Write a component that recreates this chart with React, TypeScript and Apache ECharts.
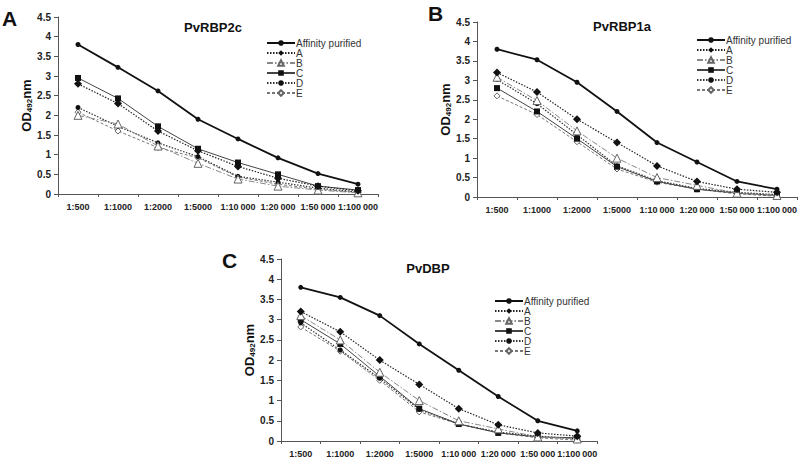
import React, { useEffect, useRef } from "react";
import * as echarts from "echarts";

const categories = ["1:500", "1:1000", "1:2000", "1:5000", "1:10\u2009000", "1:20\u2009000", "1:50\u2009000", "1:100\u2009000"];
const seriesNames = ["Affinity purified", "A", "B", "C", "D", "E"];

// Panel A: PvRBP2c
const rbp2cAffinity = [3.8, 3.22, 2.62, 1.9, 1.4, 0.92, 0.52, 0.25];
const rbp2cA = [2.8, 2.3, 1.6, 1.1, 0.7, 0.4, 0.2, 0.08];
const rbp2cB = [2.0, 1.78, 1.22, 0.78, 0.38, 0.2, 0.1, 0.03];
const rbp2cC = [2.95, 2.43, 1.72, 1.15, 0.8, 0.5, 0.2, 0.1];
const rbp2cD = [2.2, 1.72, 1.3, 0.95, 0.45, 0.3, 0.15, 0.05];
const rbp2cE = [2.08, 1.6, 1.18, 0.92, 0.43, 0.25, 0.12, 0.04];

// Panel B: PvRBP1a
const rbp1aAffinity = [3.8, 3.53, 2.95, 2.2, 1.4, 0.9, 0.4, 0.2];
const rbp1aA = [3.2, 2.7, 2.0, 1.4, 0.8, 0.4, 0.2, 0.12];
const rbp1aB = [3.08, 2.48, 1.7, 1.0, 0.5, 0.3, 0.1, 0.04];
const rbp1aC = [2.8, 2.2, 1.5, 0.78, 0.4, 0.2, 0.1, 0.04];
const rbp1aD = [3.02, 2.4, 1.6, 0.8, 0.42, 0.22, 0.12, 0.06];
const rbp1aE = [2.6, 2.12, 1.42, 0.72, 0.38, 0.2, 0.08, 0.02];

// Panel C: PvDBP
const dbpAffinity = [3.8, 3.55, 3.1, 2.4, 1.75, 1.1, 0.5, 0.25];
const dbpA = [3.2, 2.7, 2.0, 1.4, 0.8, 0.4, 0.2, 0.12];
const dbpB = [3.1, 2.5, 1.7, 1.0, 0.5, 0.3, 0.1, 0.05];
const dbpC = [3.0, 2.4, 1.6, 0.8, 0.42, 0.2, 0.1, 0.08];
const dbpD = [2.92, 2.25, 1.55, 0.78, 0.42, 0.22, 0.12, 0.05];
const dbpE = [2.82, 2.22, 1.5, 0.72, 0.42, 0.2, 0.08, 0.02];

const panels = [
  { letter: "A", title: "PvRBP2c", data: [rbp2cAffinity, rbp2cA, rbp2cB, rbp2cC, rbp2cD, rbp2cE] },
  { letter: "B", title: "PvRBP1a", data: [rbp1aAffinity, rbp1aA, rbp1aB, rbp1aC, rbp1aD, rbp1aE] },
  { letter: "C", title: "PvDBP", data: [dbpAffinity, dbpA, dbpB, dbpC, dbpD, dbpE] },
];

const layout = [
  { grid: { left: 58, width: 320, top: 17, height: 177 }, legend: { left: 266, top: 38 }, titleX: 213, titleY: 21, letterX: 2, letterY: 8 },
  { grid: { left: 477, width: 320, top: 22, height: 175 }, legend: { left: 696, top: 35 }, titleX: 622, titleY: 20, letterX: 428, letterY: 3 },
  { grid: { left: 281, width: 316, top: 259, height: 183 }, legend: { left: 494, top: 296 }, titleX: 428, titleY: 262, letterX: 222, letterY: 250 },
];

const styles = [
  { symbol: "circle", symbolSize: 5, itemStyle: { color: "#111", borderColor: "#111", borderWidth: 0 }, lineStyle: { color: "#111", width: 1.8, type: "solid" } },
  { symbol: "diamond", symbolSize: 8, itemStyle: { color: "#111", borderColor: "#111", borderWidth: 0 }, lineStyle: { color: "#222", width: 1.2, type: [1.5, 1.5] } },
  { symbol: "triangle", symbolSize: 8, itemStyle: { color: "#fff", borderColor: "#666", borderWidth: 1 }, lineStyle: { color: "#888", width: 1, type: [6, 2, 1.5, 2] } },
  { symbol: "rect", symbolSize: 6, itemStyle: { color: "#111", borderColor: "#111", borderWidth: 0 }, lineStyle: { color: "#444", width: 1, type: "solid" } },
  { symbol: "circle", symbolSize: 5, itemStyle: { color: "#111", borderColor: "#111", borderWidth: 0 }, lineStyle: { color: "#333", width: 1.2, type: [1.5, 1.5] } },
  { symbol: "diamond", symbolSize: 6, itemStyle: { color: "#fff", borderColor: "#666", borderWidth: 1 }, lineStyle: { color: "#777", width: 1, type: [3, 2] } },
];

export default function App() {
  const ref = useRef<HTMLDivElement>(null);
  useEffect(() => {
    if (!ref.current) return;
    const chart = echarts.init(ref.current, undefined, { renderer: "svg" });
    const font = "Liberation Sans, Arial, sans-serif";
    const grids: any[] = [];
    const xAxes: any[] = [];
    const yAxes: any[] = [];
    const series: any[] = [];
    const legends: any[] = [];
    const graphics: any[] = [];
    panels.forEach((p, i) => {
      const L = layout[i];
      grids.push({ ...L.grid, containLabel: false });
      xAxes.push({
        type: "category",
        gridIndex: i,
        data: categories,
        boundaryGap: true,
        axisLine: { lineStyle: { color: "#555", width: 1 } },
        axisTick: { show: true, length: 3, lineStyle: { color: "#555" } },
        axisLabel: { color: "#222", fontWeight: "bold", fontSize: 9, fontFamily: font, margin: 8, interval: 0, hideOverlap: false },
        splitLine: { show: false },
      });
      yAxes.push({
        type: "value",
        gridIndex: i,
        min: 0,
        max: 4.5,
        interval: 0.5,
        axisLine: { show: true, lineStyle: { color: "#555", width: 1 } },
        axisTick: { show: true, length: 4, lineStyle: { color: "#555" } },
        axisLabel: { color: "#222", fontWeight: "bold", fontSize: 10, fontFamily: font, margin: 7, formatter: (v: number) => String(v) },
        splitLine: { show: false },
        name: "{a|OD}{s|492}{a|nm}",
        nameLocation: "middle",
        nameGap: 24,
        nameRotate: 90,
        nameTextStyle: {
          rich: {
            a: { fontSize: 13, fontWeight: "bold", color: "#111", fontFamily: font },
            s: { fontSize: 8, fontWeight: "bold", color: "#111", fontFamily: font, verticalAlign: "bottom", padding: [6, 0, 0, 0] },
          },
        },
      });
      seriesNames.forEach((n, k) => {
        series.push({
          type: "line",
          name: n,
          xAxisIndex: i,
          yAxisIndex: i,
          data: p.data[k],
          symbol: styles[k].symbol,
          symbolSize: styles[k].symbolSize,
          showSymbol: true,
          itemStyle: styles[k].itemStyle,
          lineStyle: styles[k].lineStyle,
          z: 10 - k,
        });
      });
      legends.push({
        orient: "vertical",
        left: L.legend.left,
        top: L.legend.top,
        data: seriesNames,
        itemWidth: 28,
        itemHeight: 7,
        itemGap: 0,
        padding: 0,
        selectedMode: false,
        textStyle: { fontSize: 10, lineHeight: 10, color: "#333", fontFamily: font, padding: [0, 0, 0, -4] },
      });
      graphics.push({
        type: "text",
        x: L.titleX,
        y: L.titleY,
        style: { text: p.title, font: `bold 13px ${font}`, fill: "#111", textAlign: "center", textVerticalAlign: "top" },
      });
      graphics.push({
        type: "text",
        left: L.letterX,
        top: L.letterY,
        style: { text: p.letter, font: `bold 21px ${font}`, fill: "#111" },
      });
    });
    chart.setOption({
      animation: false,
      backgroundColor: "#fff",
      grid: grids,
      xAxis: xAxes,
      yAxis: yAxes,
      series,
      legend: legends,
      graphic: graphics,
    });
    return () => chart.dispose();
  }, []);
  return <div ref={ref} style={{ position: "fixed", left: 0, top: 0, width: 800, height: 458 }} />;
}
